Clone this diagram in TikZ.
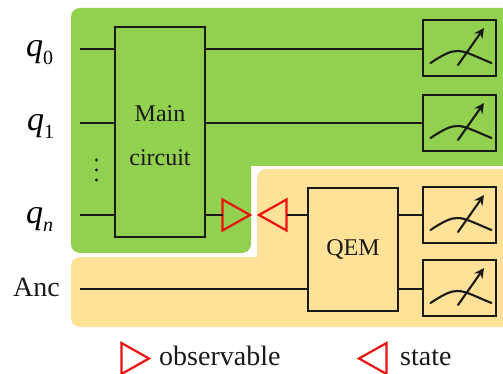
\documentclass[tikz,border=0pt]{standalone}
\usepackage{fontspec}
\setmainfont{Liberation Serif}
\usetikzlibrary{shapes.geometric,arrows.meta}
\definecolor{greenbg}{HTML}{92D050}
\definecolor{orangebg}{HTML}{FFE297}
\definecolor{redmark}{HTML}{EE1111}
\newcommand{\qlabel}[1]{\fontsize{34}{34}\selectfont\itshape q\raisebox{-8pt}{\fontsize{20}{20}\selectfont #1}}
\tikzset{
  wire/.style={line width=2pt,black!90},
  boxnode/.style={draw=black!90,line width=2pt,rectangle,inner sep=0pt,outer sep=0pt},
  meter/.style={boxnode,minimum width=73pt,minimum height=56pt},
  dial/.style={line width=2.1pt,black!90,line cap=round},
  gate/.style={align=center,font=\fontsize{24}{44}\selectfont,text=black!90},
  lbl/.style={font=\fontsize{28}{30}\selectfont,text=black!90,inner sep=0pt},
  obsmark/.style={isosceles triangle,isosceles triangle stretches,shape border rotate=0,draw=redmark,line width=2.2pt,minimum width=31pt,minimum height=27.5pt,inner sep=0pt,outer sep=0pt},
  statemark/.style={obsmark,shape border rotate=180}
}
\begin{document}
\begin{tikzpicture}[x=1pt,y=-1pt]
\useasboundingbox (0,0) rectangle (503,374);
% regions
\fill[greenbg] (503,8) [rounded corners=9pt] -- (71,8) -- (71,253) -- (251,253) [sharp corners] -- (251,166) -- (503,166) -- cycle;
\fill[orangebg] (503,169) [rounded corners=9pt] -- (257,169) [sharp corners] -- (257,257) [rounded corners=9pt] -- (71,257) -- (71,327) [sharp corners] -- (503,327) -- cycle;
% labels
\node[inner sep=0pt,anchor=base west] (l0) at (26,57) {\qlabel{\upshape 0}};
\node[inner sep=0pt,anchor=base west] (l1) at (27,131) {\qlabel{\upshape 1}};
\node[inner sep=0pt,anchor=base west] (ln) at (26,223) {\qlabel{n}};
\node[lbl,anchor=base west] (lanc) at (13,296.5) {Anc};
% boxes
\node[boxnode,minimum width=90pt,minimum height=210pt] (main) at (160,132) {};
\node[gate] (maintxt) at (160,135.5) {Main\\circuit};
\node[boxnode,minimum width=90pt,minimum height=123pt,gate] (qem) at (353,249.5) {QEM};
\node[meter] (m0) at (459.5,48) {};
\node[meter] (m1) at (459.5,123) {};
\node[meter] (m2) at (459.5,215) {};
\node[meter] (m3) at (459.5,288) {};
% wire starts
\coordinate (s0) at (80,49);
\coordinate (s1) at (80,123);
\coordinate (sn) at (80,215);
\coordinate (sa) at (80,289);
% markers
\node[obsmark,anchor=apex] (obs) at (250,215) {};
\node[statemark,anchor=apex] (st) at (259,215) {};
% wires
\draw[wire] (s0) -- (s0 -| main.west);
\draw[wire] (s1) -- (s1 -| main.west);
\draw[wire] (sn) -- (sn -| main.west);
\draw[wire] (sa) -- (sa -| qem.west);
\draw[wire] (s0 -| main.east) -- (s0 -| m0.west);
\draw[wire] (s1 -| main.east) -- (s1 -| m1.west);
\draw[wire] (sn -| main.east) -- (obs.lower side);
\draw[wire] (st.lower side) -- (sn -| qem.west);
\draw[wire] (sn -| qem.east) -- (sn -| m2.west);
\draw[wire] (sa -| qem.east) -- (sa -| m3.west);
% meter dials
\foreach \m in {m0,m1,m2,m3}{
  \draw[dial] ([shift={(-29,15)}]\m.center) .. controls ([shift={(-14,5)}]\m.center) and ([shift={(-8,3)}]\m.center) .. ([shift={(-1.5,3)}]\m.center) .. controls ([shift={(6,3)}]\m.center) and ([shift={(16,8.5)}]\m.center) .. ([shift={(32,15)}]\m.center);
  \draw[dial,-{Stealth[length=10pt,width=10pt]}] ([shift={(-1.5,17)}]\m.center) -- ([shift={(24.5,-20)}]\m.center);
}
% dots
\foreach \y in {160,170,180}{\fill[black!90] (96.5,\y) circle (1.7pt);}
% legend
\node[obsmark,anchor=apex] (lobs) at (149,358.5) {};
\node[lbl,anchor=base west] (tobs) at (159,365) {observable};
\node[statemark,anchor=apex] (lst) at (359,358.5) {};
\node[lbl,anchor=base west] (tst) at (400,365) {state};
\end{tikzpicture}
\end{document}
